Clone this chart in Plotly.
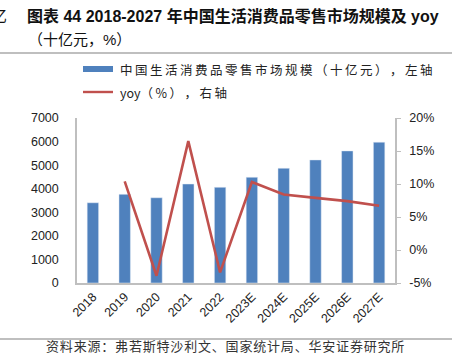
import plotly.graph_objects as go

categories = ["2018", "2019", "2020", "2021", "2022", "2023E", "2024E", "2025E", "2026E", "2027E"]
market_size = [3404, 3762, 3617, 4200, 4060, 4485, 4868, 5221, 5604, 5974]
yoy = [None, 10.4, -3.9, 16.5, -3.4, 10.3, 8.4, 7.9, 7.4, 6.7]
left_ticks = [0, 1000, 2000, 3000, 4000, 5000, 6000, 7000]
right_ticks = [-5, 0, 5, 10, 15, 20]
right_tick_labels = ["-5%", "0%", "5%", "10%", "15%", "20%"]

W, H = 452, 354
L, R, T, B = 77, 395, 118, 283


def px(x):
    return (x - L) / (R - L)


def py(y):
    return (B - y) / (B - T)


def spaced(s, sep="\u2009"):
    return sep.join(list(s))


fig = go.Figure()
fig.add_trace(go.Bar(x=categories, y=market_size, marker_color="#4F81BD",
                     width=0.36, yaxis="y", showlegend=False))
fig.add_trace(go.Scatter(x=categories, y=yoy, mode="lines",
                         line=dict(color="#C0504D", width=2.6),
                         yaxis="y2", showlegend=False, connectgaps=False))

tickfont = dict(family="Liberation Sans, Arial, sans-serif", size=12.5, color="#222")
cjk = "Liberation Sans, Noto Sans CJK SC, sans-serif"
cjk_plain = "Noto Sans CJK SC, sans-serif"

fig.update_layout(
    width=W, height=H,
    margin=dict(l=L, r=W - R, t=T, b=H - B, autoexpand=False),
    paper_bgcolor="white", plot_bgcolor="white",
    xaxis=dict(type="category", showline=True, linecolor="#BFBFBF", linewidth=1.5,
               ticks="", tickangle=-45, tickfont=tickfont, showgrid=False,
               automargin=False),
    yaxis=dict(range=[0, 7000], tickvals=left_ticks,
               showline=True, linecolor="#BFBFBF", linewidth=1.5, ticks="",
               showgrid=False, zeroline=False, tickfont=tickfont,
               ticklabelstandoff=14, automargin=False),
    yaxis2=dict(range=[-5, 20], tickvals=right_ticks, ticktext=right_tick_labels,
                overlaying="y", side="right", showline=True, linecolor="#BFBFBF",
                linewidth=1.5, ticks="outside", ticklen=4, tickcolor="#BFBFBF",
                showgrid=False, zeroline=False, tickfont=tickfont,
                ticklabelstandoff=6, automargin=False),
)

annotations = [
    dict(text="<b>图表 44 2018-2027 年中国生活消费品零售市场规模及 yoy</b>",
         x=px(25), y=py(16), xanchor="left", yanchor="middle",
         font=dict(family=cjk, size=16, color="#111")),
    dict(text="亿", x=px(9), y=py(16), xanchor="right", yanchor="middle",
         font=dict(family=cjk, size=16, color="#111")),
    dict(text="（十亿元，%）", x=px(26), y=py(39), xanchor="left", yanchor="middle",
         font=dict(family=cjk, size=15, color="#111")),
    dict(text=spaced("中国生活消费品零售市场规模（十亿元），左轴"), x=px(118), y=py(69),
         xanchor="left", yanchor="middle",
         font=dict(family=cjk_plain, size=12.5, color="#222")),
    dict(text="yoy" + spaced("（%），右轴"), x=px(118), y=py(92),
         xanchor="left", yanchor="middle",
         font=dict(family=cjk_plain, size=12.5, color="#222")),
    dict(text=spaced("资料来源：弗若斯特沙利文、国家统计局、华安证券研究所", "\u200a"),
         x=px(225), y=py(345.5), xanchor="center", yanchor="middle",
         font=dict(family=cjk_plain, size=13, color="#333")),
]
for a in annotations:
    a.update(xref="paper", yref="paper", showarrow=False)
fig.update_layout(annotations=annotations)

shapes = [
    dict(type="line", x0=px(0), x1=px(452), y0=py(53), y1=py(53),
         line=dict(color="#808080", width=1.2)),
    dict(type="line", x0=px(0), x1=px(452), y0=py(339), y1=py(339),
         line=dict(color="#808080", width=1.2)),
    dict(type="rect", x0=px(83), x1=px(113), y0=py(66), y1=py(72),
         fillcolor="#4F81BD", line=dict(width=0)),
    dict(type="line", x0=px(83), x1=px(113), y0=py(92), y1=py(92),
         line=dict(color="#C0504D", width=2.4)),
]
for s in shapes:
    s.update(xref="paper", yref="paper")
fig.update_layout(shapes=shapes)

fig.write_html("out.html")
